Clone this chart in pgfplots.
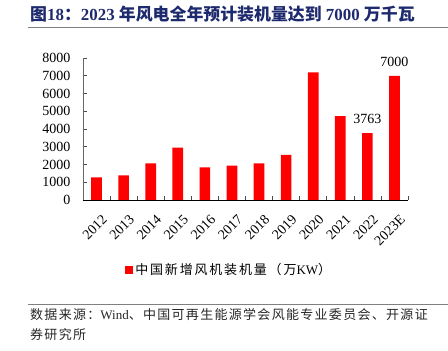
\documentclass[border=0pt]{standalone}
\usepackage{pgfplots}
\pgfplotsset{compat=1.18}
\usepackage{fontspec}
\setmainfont{Liberation Serif}
\newfontfamily\cjk{Noto Sans CJK SC}
\newfontfamily\cjksp[LetterSpace=10]{Noto Sans CJK SC}
\newfontfamily\cjkleg[LetterSpace=14]{Noto Sans CJK SC}
\definecolor{titleblue}{RGB}{30,42,110}
\definecolor{barred}{RGB}{255,0,0}
\begin{document}
\begin{tikzpicture}
\useasboundingbox (0pt,0pt) rectangle (448pt,351pt);
\node[anchor=west, text=titleblue, font=\bfseries\fontsize{16.9}{19}\selectfont, inner sep=0] at (30pt,337pt)
  {{\cjk 图}18{\cjk ：}2023 {\cjk 年风电全年预计装机量达到} 7000 {\cjk 万千瓦}};
\draw[black!50, line width=1pt] (28pt,323pt) -- (448pt,323pt);
\draw[black!50, line width=1pt] (28pt,46pt) -- (448pt,46pt);
\node[anchor=west, inner sep=0, text=black!85, font=\fontsize{13}{15}\selectfont] at (30pt,36pt)
  {{\cjksp 数据来源：}Wind{\cjksp 、中国可再生能源学会风能专业委员会、开源证}};
\node[anchor=west, inner sep=0, text=black!85, font=\fontsize{13}{15}\selectfont] at (30pt,16pt)
  {{\cjksp 券研究所}};
\begin{axis}[
  at={(83pt,151pt)}, anchor=south west, scale only axis,
  width=325pt, height=142pt,
  ymin=0, ymax=8000, ytick={0,1000,...,8000},
  xmin=-0.5, xmax=11.5,
  xtick={0,...,11},
  xticklabels={2012,2013,2014,2015,2016,2017,2018,2019,2020,2021,2022,2023E},
  minor xtick={-0.5,0.5,...,11.5},
  major x tick style={draw=none},
  axis x line=bottom, axis y line=left,
  x axis line style={-, black, line width=0.8pt},
  y axis line style={-, black!60, line width=0.8pt},
  tick align=inside, major tick length=4pt, minor tick length=4pt,
  tick style={black!70, line width=0.6pt},
  /pgf/number format/assume math mode=true,
  /pgf/number format/1000 sep={},
  tick label style={font=\fontsize{14}{16}\selectfont},
  yticklabel style={xshift=-9pt},
  xticklabel style={rotate=45, anchor=east, xshift=-3pt, yshift=-18pt},
  legend style={draw=none, fill=none, at={(0.45,-0.49)}, anchor=center,
    font=\fontsize{13}{15}\selectfont},
  legend image code/.code={\fill[barred] (0pt,-4pt) rectangle (8pt,4pt);},
  clip=false,
]
\addplot[ybar, bar width=10.7pt, fill=barred, draw=none,
  nodes near coords, point meta=explicit symbolic,
  every node near coord/.append style={font=\fontsize{14}{16}\selectfont, text=black, yshift=6pt}]
  coordinates {
  (0,1280)[] (1,1390)[] (2,2070)[] (3,2950)[] (4,1840)[] (5,1935)[]
  (6,2070)[] (7,2540)[] (8,7190)[] (9,4730)[] (10,3763)[3763] (11,7000)[7000]
  };
\addlegendentry{{\cjkleg 中国新增风机装机量（万}KW{\cjkleg ）}}
\end{axis}
\end{tikzpicture}
\end{document}
